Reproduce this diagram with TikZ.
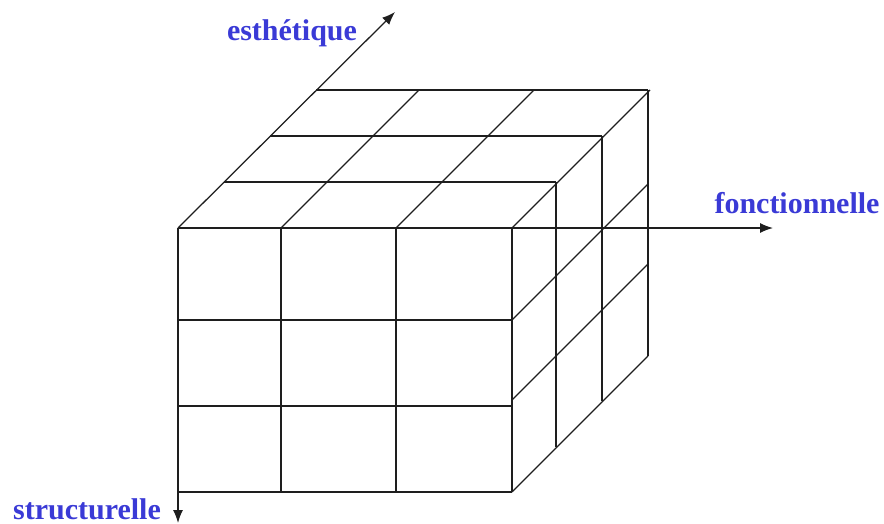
\documentclass[tikz,border=0pt]{standalone}
\usepackage{fontspec}
\setmainfont{Liberation Serif}
\usetikzlibrary{arrows.meta}
\definecolor{lblue}{RGB}{58,58,214}
\definecolor{edge}{RGB}{30,30,30}
\begin{document}
\begin{tikzpicture}[x=1pt,y=-1pt,
  grid/.style={draw=edge,line width=1.25pt},
  axis/.style={draw=edge,line width=1.25pt,-{Latex[length=13pt,width=10pt]}},
  lbl/.style={text=lblue,font=\bfseries\fontsize{30}{32}\selectfont,inner sep=0pt}]
\useasboundingbox (0,0) rectangle (884,524);
% key points
\coordinate (O) at (178,228);
\coordinate (E) at (395,12);
\coordinate (F) at (773,228);
\coordinate (S) at (178,523);
% front face grid
\foreach \y in {320,406,492} \draw[grid] (178,\y) -- (512,\y);
\foreach \x in {281,396,512} \draw[grid] (\x,228) -- (\x,492);
% top face
\draw[grid] (224,182) -- (556,182);
\draw[grid] (270,136) -- (602,136);
\draw[grid] (316,90) -- (648,90);
\foreach \x in {281,396,512} \draw[grid] (\x,228) -- ++(138,-138);
% right face
\draw[grid] (556,182) -- (556,447);
\draw[grid] (602,136) -- (602,401);
\draw[grid] (648,90) -- (648,356);
\draw[grid] (512,320) -- (648,184);
\draw[grid] (512,400) -- (648,264);
\draw[grid] (512,492) -- (648,356);
% axes
\draw[axis] (O) -- (E);
\draw[axis] (O) -- (F);
\draw[axis] (O) -- (S);
% labels
\node[lbl,anchor=base] (le) at (292,41) {esthétique};
\node[lbl,anchor=base] (lf) at (797,214) {fonctionnelle};
\node[lbl,anchor=base] (ls) at (87,519) {structurelle};
\end{tikzpicture}
\end{document}
